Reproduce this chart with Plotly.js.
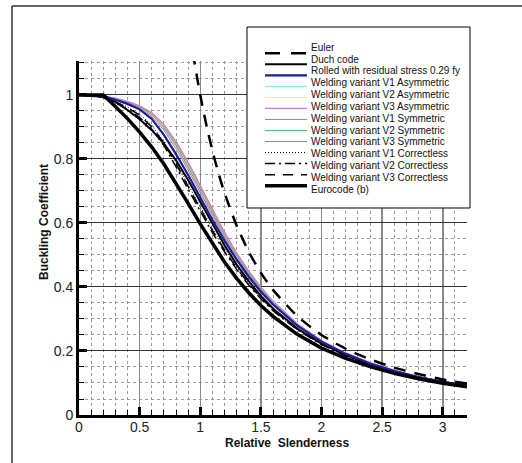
<!DOCTYPE html>
<html>
<head>
<meta charset="utf-8">
<script src="https://cdn.plot.ly/plotly-3.0.1.min.js"></script>
<style>html,body{margin:0;padding:0;background:#fff;}#chart{width:522px;height:463px;}</style>
</head>
<body>
<div id="chart"></div>
<script>
// ---- data ----
const lam = [0, 0.2, 0.3, 0.4, 0.5, 0.6, 0.7, 0.8, 0.9, 1.0, 1.1, 1.2, 1.3, 1.4, 1.5, 1.6, 1.8, 2.0, 2.2, 2.4, 2.6, 2.8, 3.0, 3.2];
const eurocodeB   = [1, 1, 0.964, 0.926, 0.884, 0.837, 0.784, 0.724, 0.661, 0.597, 0.535, 0.478, 0.427, 0.382, 0.342, 0.308, 0.252, 0.209, 0.177, 0.151, 0.130, 0.113, 0.099, 0.088];
const duchCode    = [1, 1, 0.978, 0.953, 0.924, 0.890, 0.848, 0.796, 0.734, 0.666, 0.596, 0.530, 0.470, 0.418, 0.372, 0.333, 0.270, 0.223, 0.187, 0.159, 0.136, 0.118, 0.104, 0.092];
const rolled      = [1, 0.995, 0.985, 0.972, 0.955, 0.925, 0.875, 0.815, 0.750, 0.680, 0.610, 0.545, 0.485, 0.432, 0.385, 0.345, 0.279, 0.229, 0.191, 0.161, 0.137, 0.118, 0.103, 0.091];
const v1Asym      = [1, 0.996, 0.988, 0.978, 0.963, 0.940, 0.900, 0.845, 0.778, 0.705, 0.632, 0.563, 0.500, 0.444, 0.395, 0.352, 0.283, 0.232, 0.193, 0.163, 0.139, 0.120, 0.104, 0.092];
const v2Asym      = [1, 0.996, 0.987, 0.976, 0.960, 0.936, 0.895, 0.838, 0.770, 0.698, 0.626, 0.558, 0.496, 0.441, 0.392, 0.350, 0.282, 0.231, 0.192, 0.162, 0.138, 0.119, 0.104, 0.092];
const v3Asym      = [1, 0.997, 0.990, 0.980, 0.966, 0.945, 0.908, 0.855, 0.790, 0.717, 0.643, 0.572, 0.507, 0.450, 0.400, 0.356, 0.285, 0.233, 0.194, 0.164, 0.140, 0.120, 0.105, 0.093];
const v1Sym       = [1, 0.996, 0.988, 0.977, 0.962, 0.938, 0.898, 0.842, 0.775, 0.702, 0.629, 0.560, 0.498, 0.442, 0.393, 0.351, 0.282, 0.231, 0.193, 0.163, 0.139, 0.120, 0.104, 0.092];
const v2Sym       = [1, 0.997, 0.989, 0.979, 0.965, 0.943, 0.905, 0.850, 0.785, 0.712, 0.638, 0.568, 0.504, 0.447, 0.397, 0.354, 0.284, 0.232, 0.193, 0.163, 0.139, 0.120, 0.104, 0.092];
const v3Sym       = [1, 0.995, 0.986, 0.974, 0.958, 0.932, 0.890, 0.832, 0.765, 0.693, 0.621, 0.553, 0.492, 0.438, 0.390, 0.348, 0.281, 0.230, 0.192, 0.162, 0.138, 0.119, 0.103, 0.091];
const v1Corr      = [1, 0.993, 0.980, 0.962, 0.940, 0.905, 0.855, 0.790, 0.720, 0.650, 0.583, 0.520, 0.463, 0.413, 0.369, 0.331, 0.269, 0.222, 0.186, 0.158, 0.135, 0.117, 0.102, 0.090];
const v2Corr      = [1, 0.992, 0.976, 0.955, 0.930, 0.893, 0.842, 0.776, 0.705, 0.636, 0.570, 0.510, 0.455, 0.406, 0.363, 0.326, 0.266, 0.220, 0.185, 0.157, 0.134, 0.116, 0.101, 0.090];
const v3Corr      = [1, 0.993, 0.979, 0.960, 0.937, 0.900, 0.850, 0.785, 0.714, 0.644, 0.577, 0.515, 0.459, 0.410, 0.366, 0.329, 0.268, 0.221, 0.186, 0.158, 0.135, 0.117, 0.102, 0.090];
const lamEuler = [0.94, 0.95, 0.975, 1.0, 1.05, 1.1, 1.15, 1.2, 1.3, 1.4, 1.5, 1.6, 1.8, 2.0, 2.2, 2.4, 2.6, 2.8, 3.0, 3.2];
const euler    = [1.132, 1.108, 1.052, 1.0, 0.907, 0.826, 0.756, 0.694, 0.592, 0.510, 0.444, 0.391, 0.309, 0.250, 0.207, 0.174, 0.148, 0.128, 0.111, 0.098];

const xTicks = [0, 0.5, 1, 1.5, 2, 2.5, 3];
const xTickText = ['0', '0.5', '1', '1.5', '2', '2.5', '3'];
const yTicks = [0, 0.2, 0.4, 0.6, 0.8, 1];
const yTickText = ['0', '0.2', '0.4', '0.6', '0.8', '1'];

const legendNames = ['Euler', 'Duch code', 'Rolled with residual stress 0.29 fy',
  'Welding variant V1 Asymmetric', 'Welding variant V2 Asymmetric', 'Welding variant V3 Asymmetric',
  'Welding variant V1 Symmetric', 'Welding variant V2 Symmetric', 'Welding variant V3 Symmetric',
  'Welding variant V1 Correctless', 'Welding variant V2 Correctless', 'Welding variant V3 Correctless',
  'Eurocode (b)'];

// ---- styles ----
const styles = {
  'Euler': {color: '#000', width: 2.5, dash: '12px,9px', ldash: '15px,11px'},
  'Duch code': {color: '#000', width: 2, dash: 'solid'},
  'Rolled with residual stress 0.29 fy': {color: '#1c1c9c', width: 2.2, dash: 'solid'},
  'Welding variant V1 Asymmetric': {color: '#7ee0e4', width: 1, dash: 'solid'},
  'Welding variant V2 Asymmetric': {color: '#eeee88', width: 1, dash: 'solid'},
  'Welding variant V3 Asymmetric': {color: '#d07ad0', width: 1.2, dash: 'solid'},
  'Welding variant V1 Symmetric': {color: '#c07878', width: 1, dash: 'solid'},
  'Welding variant V2 Symmetric': {color: '#5cc05c', width: 1, dash: 'solid'},
  'Welding variant V3 Symmetric': {color: '#8888aa', width: 1, dash: 'solid'},
  'Welding variant V1 Correctless': {color: '#000', width: 1, dash: '1px,2px'},
  'Welding variant V2 Correctless': {color: '#000', width: 1.5, dash: '10px,4px,2px,4px'},
  'Welding variant V3 Correctless': {color: '#000', width: 1.5, dash: '10px,8px'},
  'Eurocode (b)': {color: '#000', width: 3.5, dash: 'solid'}
};

const seriesY = {
  'Duch code': duchCode,
  'Rolled with residual stress 0.29 fy': rolled,
  'Welding variant V1 Asymmetric': v1Asym,
  'Welding variant V2 Asymmetric': v2Asym,
  'Welding variant V3 Asymmetric': v3Asym,
  'Welding variant V1 Symmetric': v1Sym,
  'Welding variant V2 Symmetric': v2Sym,
  'Welding variant V3 Symmetric': v3Sym,
  'Welding variant V1 Correctless': v1Corr,
  'Welding variant V2 Correctless': v2Corr,
  'Welding variant V3 Correctless': v3Corr,
  'Eurocode (b)': eurocodeB
};

const drawOrder = ['Welding variant V2 Asymmetric', 'Welding variant V1 Asymmetric', 'Welding variant V1 Symmetric',
  'Welding variant V3 Symmetric', 'Welding variant V2 Symmetric', 'Welding variant V3 Asymmetric',
  'Welding variant V1 Correctless', 'Welding variant V3 Correctless', 'Welding variant V2 Correctless',
  'Duch code', 'Rolled with residual stress 0.29 fy', 'Eurocode (b)'];

const traces = drawOrder.map(n => ({
  type: 'scatter', mode: 'lines', name: n, x: lam, y: seriesY[n],
  line: {color: styles[n].color, width: styles[n].width, dash: styles[n].dash, shape: 'linear'},
  showlegend: false, hoverinfo: 'skip'
}));
traces.push({
  type: 'scatter', mode: 'lines', name: 'Euler', x: lamEuler, y: euler,
  line: {color: '#000', width: 2.5, dash: styles['Euler'].dash, shape: 'spline', smoothing: 0.6},
  showlegend: false, hoverinfo: 'skip'
});

// ---- geometry helpers (pixel -> paper) ----
const ML = 79, MR = 55, MT = 61, MB = 48, W = 522, H = 463;
const PW = W - ML - MR, PH = H - MT - MB;
const px = v => (v - ML) / PW;
const py = v => (H - MB - v) / PH;

const shapes = [];
const annotations = [];
const FONT = 'Arial, Liberation Sans, sans-serif';
// outer frame (left and top edges visible)
shapes.push({type: 'line', xref: 'paper', yref: 'paper', x0: px(12), x1: px(12), y0: py(470), y1: py(6),
  line: {color: '#333', width: 1.5}, layer: 'below'});
shapes.push({type: 'line', xref: 'paper', yref: 'paper', x0: px(12), x1: px(540), y0: py(6), y1: py(6),
  line: {color: '#333', width: 1.5}, layer: 'below'});
// legend box
shapes.push({type: 'rect', xref: 'paper', yref: 'paper', x0: px(247), x1: px(470), y0: py(208), y1: py(27),
  line: {color: '#000', width: 1}, fillcolor: '#fff', layer: 'above'});
legendNames.forEach((n, i) => {
  const ly = 53.3 + i * 11.03;
  const ty = 47.3 + i * 11.83;
  const s = styles[n];
  shapes.push({type: 'line', xref: 'paper', yref: 'paper', x0: px(265), x1: px(307), y0: py(ly), y1: py(ly),
    line: {color: s.color, width: s.width, dash: s.ldash || s.dash}, layer: 'above'});
  annotations.push({xref: 'paper', yref: 'paper', x: px(309), y: py(ty), xanchor: 'left', yanchor: 'middle',
    text: n, showarrow: false, font: {family: FONT, size: 10, color: '#111'}});
});
// axis titles
annotations.push({xref: 'paper', yref: 'paper', x: px(287), y: py(443), xanchor: 'center', yanchor: 'middle',
  text: 'Relative  Slenderness', showarrow: false, font: {family: FONT, size: 12, color: '#111', weight: 'bold'}});
annotations.push({xref: 'paper', yref: 'paper', x: px(44), y: py(222), xanchor: 'center', yanchor: 'middle', textangle: -90,
  text: 'Buckling Coefficient', showarrow: false, font: {family: FONT, size: 12, color: '#111', weight: 'bold'}});

const layout = {
  width: W, height: H,
  margin: {l: ML, r: MR, t: MT, b: MB, pad: 0},
  paper_bgcolor: '#fff', plot_bgcolor: '#fff',
  showlegend: false,
  font: {family: FONT, size: 14, color: '#222'},
  xaxis: {
    range: [0, 3.2], tickmode: 'array', tickvals: xTicks, ticktext: xTickText,
    ticks: 'inside', ticklen: 8, tickwidth: 3, tickcolor: '#000', ticklabelstandoff: -2,
    showline: true, linecolor: '#000', linewidth: 2.5, mirror: false,
    showgrid: true, gridcolor: '#8a8a8a', gridwidth: 1.5, zeroline: false,
    minor: {dtick: 0.1, tick0: 0, ticks: 'inside', ticklen: 5, tickwidth: 1, tickcolor: '#000',
      showgrid: true, gridcolor: '#9a9a9a', gridwidth: 1, griddash: 'dot'},
    tickfont: {size: 14, color: '#222'}, fixedrange: true
  },
  yaxis: {
    range: [0, 1.106], tickmode: 'array', tickvals: yTicks, ticktext: yTickText,
    ticks: 'inside', ticklen: 8, tickwidth: 3, tickcolor: '#000',
    showline: true, linecolor: '#000', linewidth: 3, mirror: false,
    showgrid: true, gridcolor: '#333', gridwidth: 1, zeroline: false,
    minor: {dtick: 0.05, tick0: 0, ticks: 'inside', ticklen: 5, tickwidth: 1, tickcolor: '#000',
      showgrid: true, gridcolor: '#9a9a9a', gridwidth: 1, griddash: 'dot'},
    tickfont: {size: 14, color: '#222'}, fixedrange: true
  },
  shapes: shapes,
  annotations: annotations
};

Plotly.newPlot('chart', traces, layout, {staticPlot: true, displayModeBar: false});
</script>
</body>
</html>
